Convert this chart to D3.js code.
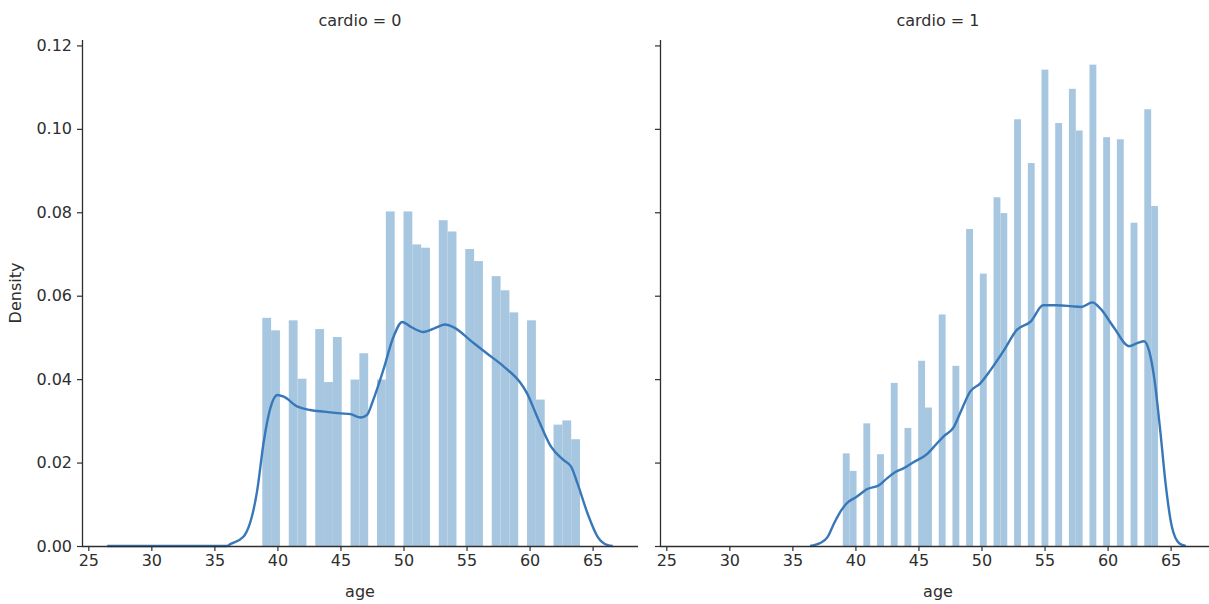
<!DOCTYPE html>
<html>
<head>
<meta charset="utf-8">
<script src="https://cdn.jsdelivr.net/npm/d3@7"></script>
<style>
  body { margin: 0; background: #fff; }
  svg { display: block; font-family: "DejaVu Sans", sans-serif; }
</style>
</head>
<body>
<div id="chart"></div>
<script>
// panel titles
const panels = ["cardio = 0", "cardio = 1"]

// integer ages present in the data
const ages = [39, 40, 41, 42, 43, 44, 45, 46, 47, 48, 49, 50, 51, 52,
              53, 54, 55, 56, 57, 58, 59, 60, 61, 62, 63, 64]

// histogram density per age, cardio = 0
const histDensity0 = [0.0547, 0.0517, 0.0541, 0.0401, 0.0520, 0.0393, 0.0501, 0.0399, 0.0462, 0.0399,
                      0.0802, 0.0802, 0.0723, 0.0715, 0.0781, 0.0754, 0.0712, 0.0683,
                      0.0647, 0.0613, 0.0560, 0.0541, 0.0351, 0.0291, 0.0301, 0.0256]
// histogram density per age, cardio = 1
const histDensity1 = [0.0222, 0.0180, 0.0294, 0.0220, 0.0391, 0.0283, 0.0444, 0.0332, 0.0555, 0.0432,
                      0.0760, 0.0653, 0.0836, 0.0798, 0.1023, 0.0918, 0.1142, 0.1014,
                      0.1096, 0.0996, 0.1154, 0.0980, 0.0975, 0.0775, 0.1047, 0.0815]

// histogram bin settings: [first edge, last edge, number of bins]
const bins0 = [29, 64, 50]
const bins1 = [39, 64, 46]

// kde curve, cardio = 0
const kdeAge0 = [26.5, 36.0, 36.3, 37.3, 38.4, 38.9, 39.4, 40.0, 40.5, 41.6, 42.6, 43.7, 45.0, 45.8,
                 46.6, 47.1, 47.6, 48.4, 49.2, 49.9, 50.6, 51.6, 52.4, 53.3, 54.0, 55.3, 56.6,
                 58.0, 59.3, 59.8, 60.6, 61.7, 62.7, 63.3, 63.8, 64.6, 65.4, 66.2, 66.6]
const kdeDens0 = [0.0, 0.0, 0.0005, 0.0022, 0.0134, 0.0247, 0.0326, 0.0362, 0.0358, 0.0334, 0.0326, 0.0322, 0.0318, 0.0316,
                  0.0308, 0.0314, 0.0350, 0.0422, 0.0501, 0.0537, 0.0525, 0.0513, 0.0521, 0.0531, 0.0524, 0.0493, 0.0462,
                  0.0429, 0.0390, 0.0366, 0.0310, 0.0238, 0.0206, 0.0190, 0.0150, 0.0078, 0.0022, 0.0002, 0.0]

// kde curve, cardio = 1
const kdeAge1 = [36.4, 37.2, 37.8, 38.3, 38.8, 39.3, 40.1, 40.9, 41.9, 42.5, 43.2, 43.8, 44.6, 45.7,
                 46.2, 47.0, 47.8, 48.3, 49.1, 49.9, 50.7, 51.8, 52.8, 53.9, 54.9, 56.0, 57.1,
                 57.9, 58.8, 59.4, 60.5, 61.7, 62.4, 62.9, 63.3, 63.7, 64.2, 64.6, 65.1, 65.7, 66.2]
const kdeDens1 = [0.0, 0.0007, 0.0022, 0.0054, 0.0082, 0.0102, 0.0118, 0.0136, 0.0146, 0.0162, 0.0178, 0.0186, 0.0201, 0.0221,
                  0.0237, 0.0263, 0.0285, 0.0318, 0.0370, 0.0390, 0.0421, 0.0470, 0.0518, 0.0538, 0.0577, 0.0577, 0.0575,
                  0.0573, 0.0584, 0.0570, 0.0524, 0.0479, 0.0487, 0.0491, 0.0467, 0.0403, 0.0270, 0.0150, 0.0046, 0.0006, 0.0]

const xTicks = [25, 30, 35, 40, 45, 50, 55, 60, 65]
const yTicks = [0.00, 0.02, 0.04, 0.06, 0.08, 0.10, 0.12]

const panelData = [
    {title: panels[0], hist: histDensity0, bins: bins0, kdeX: kdeAge0, kdeY: kdeDens0},
    {title: panels[1], hist: histDensity1, bins: bins1, kdeX: kdeAge1, kdeY: kdeDens1}
]

// chart constants
const width = 1209
const height = 604
const axLeft = [82, 660]
const axWidth = 556
const axTop = 40
const axBottom = 546
const barColor = "#a7c6e0"
const lineColor = "#3878b8"
const inkColor = "#2e2e2e"
const fontSize = "16px"

const svg = d3.select("#chart").append("svg")
              .attr("width", width)
              .attr("height", height)
              .attr("viewBox", [0, 0, width, height])

const yScale = d3.scaleLinear()
                 .domain([0, 0.1213])
                 .range([axBottom, axTop])

panelData.forEach((p, pi) => {
    const x0 = axLeft[pi]
    const xScale = d3.scaleLinear()
                     .domain([24.5, 68.6])
                     .range([x0, x0 + axWidth])

    const chart = svg.append("g")

    // histogram bars
    const [bStart, bEnd, bCount] = p.bins
    const bw = (bEnd - bStart) / bCount
    chart.append("g")
         .selectAll("rect")
         .data(ages.map((a, i) => ({age: a, dens: p.hist[i]})))
         .join("rect")
         .attr("x", d => {
             const idx = Math.min(Math.floor((d.age - bStart) / bw), bCount - 1)
             return xScale(bStart + idx * bw)
         })
         .attr("width", xScale(bw) - xScale(0))
         .attr("y", d => yScale(d.dens))
         .attr("height", d => yScale(0) - yScale(d.dens))
         .attr("fill", barColor)

    // kde line
    const line = d3.line()
                   .x(d => xScale(d[0]))
                   .y(d => yScale(d[1]))
                   .curve(d3.curveMonotoneX)
    chart.append("path")
         .attr("d", line(p.kdeX.map((a, i) => [a, p.kdeY[i]])))
         .attr("fill", "none")
         .attr("stroke", lineColor)
         .attr("stroke-width", 2.4)

    // axes
    const xAxis = d3.axisBottom(xScale)
                    .tickValues(xTicks)
                    .tickSize(5)
                    .tickPadding(4)
    const yAxis = d3.axisLeft(yScale)
                    .tickValues(yTicks)
                    .tickFormat(pi === 0 ? d3.format(".2f") : "")
                    .tickSize(5)
                    .tickPadding(5)
    const gx = chart.append("g")
                    .attr("transform", `translate(0, ${axBottom})`)
                    .call(xAxis)
    const gy = chart.append("g")
                    .attr("transform", `translate(${x0}, 0)`)
                    .call(yAxis)
    ;[gx, gy].forEach(g => {
        g.select(".domain").attr("stroke", inkColor).attr("stroke-width", 1.3)
        g.selectAll(".tick line").attr("stroke", inkColor).attr("stroke-width", 1.2)
        g.selectAll(".tick text")
         .attr("fill", inkColor)
         .attr("font-size", fontSize)
         .attr("font-family", "DejaVu Sans, sans-serif")
    })
    // plain spines without the outer tick ends
    gx.select(".domain").attr("d", `M${x0},0.5H${x0 + axWidth}`)
    gy.select(".domain").attr("d", `M0.5,${axBottom}V${axTop}`)

    // title and x label
    chart.append("text")
         .attr("x", x0 + axWidth / 2)
         .attr("y", 26)
         .attr("text-anchor", "middle")
         .attr("font-size", fontSize)
         .attr("fill", inkColor)
         .text(p.title)
    chart.append("text")
         .attr("x", x0 + axWidth / 2)
         .attr("y", 597)
         .attr("text-anchor", "middle")
         .attr("font-size", fontSize)
         .attr("fill", inkColor)
         .text("age")
})

// y label
svg.append("text")
   .attr("transform", `translate(21, ${(axTop + axBottom) / 2}) rotate(-90)`)
   .attr("text-anchor", "middle")
   .attr("font-size", fontSize)
   .attr("fill", inkColor)
   .text("Density")
</script>
</body>
</html>
